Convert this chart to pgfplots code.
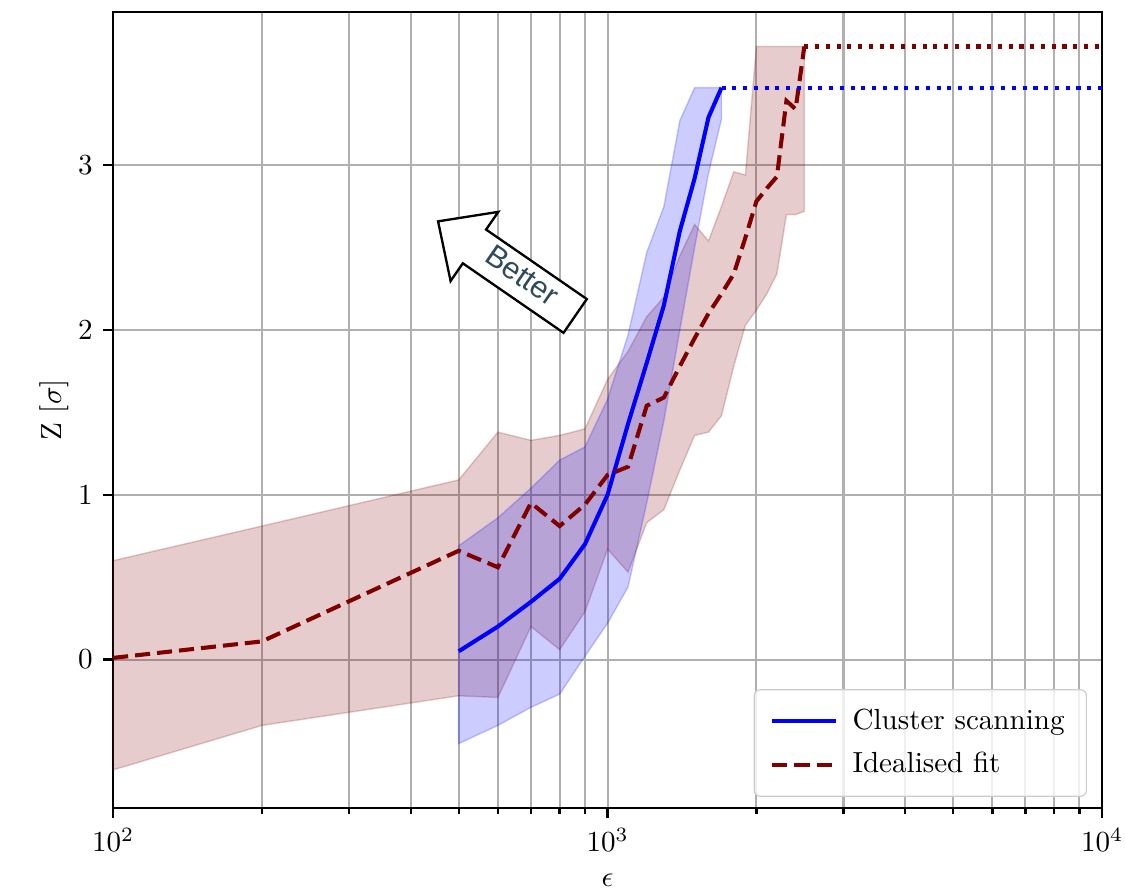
\documentclass[border=0pt]{standalone}
\usepackage{fontspec}
\usepackage{pgfplots}
\pgfplotsset{compat=1.18}
\newfontfamily\helv{Liberation Sans}
\definecolor{dred}{HTML}{800000}
\definecolor{gridgray}{HTML}{B0B0B0}
\definecolor{bettercol}{HTML}{2E4A5C}
\begin{document}
\begin{tikzpicture}
\begin{axis}[
  at={(0,0)}, anchor=south west,
  scale only axis, width=340.2pt, height=273.8pt,
  xmode=log, log basis x=10,
  xmin=100, xmax=10000, ymin=-0.9, ymax=3.93,
  xtick={100,1000,10000},
  minor xtick={200,300,400,500,600,700,800,900,2000,3000,4000,5000,6000,7000,8000,9000},
  ytick={0,1,2,3},
  tick align=outside, tick pos=left,
  major tick length=3.5pt, minor tick length=2pt,
  every tick/.style={black, line width=0.8pt},
  xmajorgrids, xminorgrids, ymajorgrids,
  grid style={gridgray, line width=0.7pt},
  minor grid style={gridgray, line width=0.7pt},
  axis line style={line width=0.9pt},
  xlabel={$\epsilon$}, ylabel={Z $[\sigma]$},
  xlabel style={at={(axis description cs:0.5,-0.0906)}, anchor=center},
  ylabel style={at={(axis description cs:-0.0600,0.5)}, anchor=center},
  legend style={at={(1,0)}, anchor=south east, xshift=-5.2pt, yshift=3.8pt,
    draw=gray!40, rounded corners=2pt, fill=white, fill opacity=0.8, text opacity=1,
    inner xsep=5.5pt, inner ysep=4.5pt, row sep=2.5pt, column sep=3pt},
  legend cell align=left,
  legend image code/.code={\draw[#1] (0cm,0cm) -- (0.77cm,0cm);},
]
% Idealised fit band
\addplot[draw=dred, draw opacity=0.2, fill=dred, fill opacity=0.2, line width=0.5pt, forget plot] coordinates {
(100,0.60) (200,0.81) (500,1.09) (600,1.38) (700,1.33) (800,1.36) (900,1.40) (1000,1.70)
(1100,1.87) (1200,2.08) (1300,2.20) (1400,2.45) (1500,2.64) (1600,2.54) (1700,2.75)
(1800,2.96) (1900,2.94) (2000,3.72) (2100,3.72) (2200,3.72) (2300,3.72) (2400,3.72) (2500,3.72)
(2500,2.72) (2400,2.70) (2300,2.70) (2200,2.34) (2100,2.22) (2000,2.12) (1900,2.03) (1800,1.78)
(1700,1.48) (1600,1.38) (1500,1.36) (1400,1.15) (1300,0.91) (1200,0.83) (1100,0.53) (1000,0.67)
(900,0.29) (800,0.06) (700,0.20) (600,-0.23) (500,-0.22) (200,-0.40) (100,-0.67) (100,0.60)
};
% Cluster scanning band
\addplot[draw=blue, draw opacity=0.2, fill=blue, fill opacity=0.2, line width=0.5pt, forget plot] coordinates {
(500,0.69) (600,0.86) (700,1.04) (800,1.21) (900,1.29) (1000,1.58) (1100,1.97) (1200,2.47)
(1300,2.75) (1400,3.27) (1500,3.47) (1600,3.47) (1700,3.47)
(1700,3.28) (1600,2.95) (1500,2.50) (1400,2.00) (1300,1.45) (1200,0.95) (1100,0.44) (1000,0.22)
(900,0.02) (800,-0.21) (700,-0.29) (600,-0.40) (500,-0.51) (500,0.69)
};
% Lines
\addplot[blue, line width=1.4pt] coordinates {
(500,0.05) (600,0.20) (700,0.35) (800,0.49) (900,0.70) (1000,1.00) (1100,1.43) (1200,1.80)
(1300,2.15) (1400,2.60) (1500,2.92) (1600,3.29) (1700,3.47)
};
\addlegendentry{Cluster scanning}
\addplot[dred, line width=1.4pt, dash pattern=on 5.2pt off 2.4pt] coordinates {
(100,0.01) (200,0.11) (500,0.66) (600,0.56) (700,0.95) (800,0.81) (900,0.94) (1000,1.12)
(1100,1.17) (1200,1.54) (1300,1.59) (1400,1.78) (1500,1.95) (1600,2.10) (1700,2.22) (1800,2.34)
(1900,2.56) (2000,2.78) (2100,2.86) (2200,2.93) (2300,3.39) (2400,3.34) (2500,3.72)
};
\addlegendentry{Idealised fit}
\addplot[blue, line width=1.4pt, dash pattern=on 1.4pt off 2.3pt, forget plot] coordinates {(1700,3.47) (10000,3.47)};
\addplot[dred, line width=1.4pt, dash pattern=on 1.4pt off 2.3pt, forget plot] coordinates {(2500,3.72) (10000,3.72)};
% Better arrow
\begin{scope}[shift={(axis cs:625,2.372)}, rotate=145.4]
\draw[line width=0.8pt, fill=white, line join=miter]
  (28.65pt,0pt) -- (13.45pt,14.45pt) -- (13.45pt,7.05pt) -- (-28.65pt,7.05pt)
  -- (-28.65pt,-7.05pt) -- (13.45pt,-7.05pt) -- (13.45pt,-14.45pt) -- cycle;
\end{scope}
\node[rotate=-34.6, text=bettercol, inner sep=0pt, font=\helv\fontsize{10.5}{12}\selectfont] at (axis cs:673,2.33) {Better};
\end{axis}
\pgfresetboundingbox
\useasboundingbox (-38.9pt,-28.9pt) rectangle (348.1pt,277.9pt);
\end{tikzpicture}
\end{document}
